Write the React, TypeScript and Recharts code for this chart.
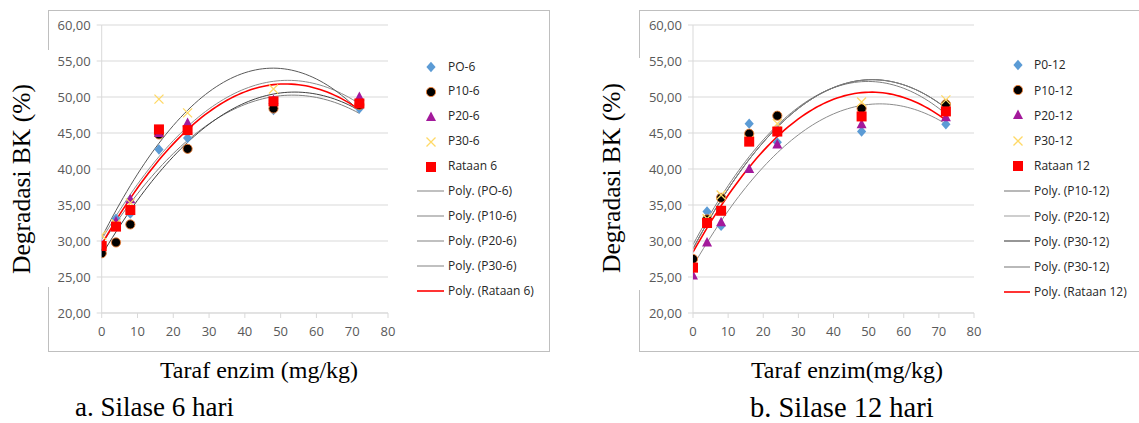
import React from 'react';
import { ComposedChart, Scatter, Line, XAxis, YAxis, CartesianGrid, Legend } from 'recharts';

// ---------- data ----------
const enzymeLevels = [0, 4, 8, 16, 24, 48, 72];

const p0_6 = [28.6, 33.1, 33.8, 42.7, 44.3, 48.2, 48.4];
const p10_6 = [28.3, 29.8, 32.3, 44.8, 42.8, 48.4, 48.9];
const p20_6 = [29.5, 32.7, 35.8, 45.0, 46.4, 49.6, 50.0];
const p30_6 = [30.8, 32.4, 35.3, 49.7, 47.8, 51.1, 49.1];
const rataan6 = [29.3, 32.0, 34.3, 45.5, 45.4, 49.4, 49.1];

const p0_12 = [26.2, 34.1, 32.1, 46.3, 43.7, 45.2, 46.2];
const p10_12 = [27.5, 33.0, 36.0, 44.9, 47.4, 48.4, 49.0];
const p20_12 = [25.2, 29.8, 32.6, 40.0, 43.4, 46.2, 47.2];
const p30_12 = [26.3, 33.1, 36.4, 44.0, 46.3, 49.3, 49.6];
const rataan12 = [26.3, 32.5, 34.2, 43.8, 45.2, 47.3, 48.0];

const yTicks = [20, 25, 30, 35, 40, 45, 50, 55, 60];
const xTicks = [0, 10, 20, 30, 40, 50, 60, 70, 80];

const names6 = ['PO-6', 'P10-6', 'P20-6', 'P30-6', 'Rataan 6'];
const trendNames6 = ['Poly. (PO-6)', 'Poly. (P10-6)', 'Poly. (P20-6)', 'Poly. (P30-6)', 'Poly. (Rataan 6)'];
const names12 = ['P0-12', 'P10-12', 'P20-12', 'P30-12', 'Rataan 12'];
const trendNames12 = ['Poly. (P10-12)', 'Poly. (P20-12)', 'Poly. (P30-12)', 'Poly. (P30-12)', 'Poly. (Rataan 12)'];

// ---------- helpers ----------
const toPoints = (ys: number[]) => enzymeLevels.map((x, i) => ({ x, y: ys[i] }));

// second-order least-squares trendline (as Excel "Poly." trendline)
function polyFit2(xs: number[], ys: number[]) {
  let n = xs.length, s1 = 0, s2 = 0, s3 = 0, s4 = 0, t0 = 0, t1 = 0, t2 = 0;
  for (let i = 0; i < n; i++) {
    const x = xs[i], y = ys[i];
    s1 += x; s2 += x * x; s3 += x * x * x; s4 += x * x * x * x;
    t0 += y; t1 += x * y; t2 += x * x * y;
  }
  const det = (m: number[][]) =>
    m[0][0] * (m[1][1] * m[2][2] - m[1][2] * m[2][1]) -
    m[0][1] * (m[1][0] * m[2][2] - m[1][2] * m[2][0]) +
    m[0][2] * (m[1][0] * m[2][1] - m[1][1] * m[2][0]);
  const M = [[n, s1, s2], [s1, s2, s3], [s2, s3, s4]];
  const D = det(M);
  const a = det([[t0, s1, s2], [t1, s2, s3], [t2, s3, s4]]) / D;
  const b = det([[n, t0, s2], [s1, t1, s3], [s2, t2, s4]]) / D;
  const c = det([[n, s1, t0], [s1, s2, t1], [s2, s3, t2]]) / D;
  return { a, b, c };
}
const trendX: number[] = [];
for (let x = 0; x <= 72; x += 1) trendX.push(x);
const trend = (ys: number[]) => {
  const { a, b, c } = polyFit2(enzymeLevels, ys);
  return trendX.map((x) => ({ x, y: a + b * x + c * x * x }));
};

const fmt = (v: number) => v.toFixed(2).replace('.', ',');

// ---------- marker shapes ----------
const DiamondShape = (p: any) => (
  <path d={`M${p.cx},${p.cy - 5.2}L${p.cx + 4.6},${p.cy}L${p.cx},${p.cy + 5.2}L${p.cx - 4.6},${p.cy}Z`} fill="#5B9BD5" />
);
const CircleShape = (p: any) => (
  <circle cx={p.cx} cy={p.cy} r={4.6} fill="#000000" stroke="#ED7D31" strokeWidth={0.9} />
);
const TriangleShape = (p: any) => (
  <path d={`M${p.cx},${p.cy - 5.5}L${p.cx + 5},${p.cy + 4}L${p.cx - 5},${p.cy + 4}Z`} fill="#A3199B" />
);
const XShape = (p: any) => (
  <path d={`M${p.cx - 4.5},${p.cy - 4.5}L${p.cx + 4.5},${p.cy + 4.5}M${p.cx + 4.5},${p.cy - 4.5}L${p.cx - 4.5},${p.cy + 4.5}`} stroke="#FFD966" strokeWidth={1.3} fill="none" />
);
const SquareShape = (p: any) => (
  <rect x={p.cx - 5} y={p.cy - 5} width={10} height={10} fill="#FF0000" />
);
const shapes = [DiamondShape, CircleShape, TriangleShape, XShape, SquareShape];

// ---------- legend ----------
type LegendCfg = {
  left: number; top: number; rowH: number; markerX: number; lineX1: number; lineX2: number; textX: number;
  names: string[]; trendNames: string[]; lineColors: string[];
};
const LegendBox = ({ cfg }: { cfg: LegendCfg }) => {
  const rows: React.ReactNode[] = [];
  cfg.names.forEach((n, i) => {
    const Shape = shapes[i];
    rows.push(
      <div key={'m' + i} style={{ position: 'absolute', top: i * cfg.rowH, left: 0, height: cfg.rowH, width: 150 }}>
        <svg width={14} height={14} style={{ position: 'absolute', left: cfg.markerX - cfg.left - 7, top: cfg.rowH / 2 - 7 }}>
          <Shape cx={7} cy={7} />
        </svg>
        <span style={{ position: 'absolute', left: cfg.textX - cfg.left, top: 0, lineHeight: cfg.rowH + 'px', whiteSpace: 'nowrap' }}>{n}</span>
      </div>
    );
  });
  cfg.trendNames.forEach((n, j) => {
    const i = j + cfg.names.length;
    const red = j === cfg.trendNames.length - 1;
    rows.push(
      <div key={'t' + j} style={{ position: 'absolute', top: i * cfg.rowH, left: 0, height: cfg.rowH, width: 150 }}>
        <svg width={cfg.lineX2 - cfg.lineX1} height={4} style={{ position: 'absolute', left: cfg.lineX1 - cfg.left, top: cfg.rowH / 2 - 2 }}>
          <line x1={0} y1={2} x2={cfg.lineX2 - cfg.lineX1} y2={2} stroke={cfg.lineColors[j]} strokeWidth={red ? 1.6 : 1.1} />
        </svg>
        <span style={{ position: 'absolute', left: cfg.textX - cfg.left, top: 0, lineHeight: cfg.rowH + 'px', whiteSpace: 'nowrap' }}>{n}</span>
      </div>
    );
  });
  return (
    <div style={{ position: 'relative', width: 150, height: cfg.rowH * 10, fontFamily: '"Open Sans", sans-serif', fontSize: 12, color: '#262626' }}>
      {rows}
    </div>
  );
};

// ---------- one panel ----------
type PanelProps = {
  left: number; width: number; plotLeft: number; plotWidth: number;
  series: number[][]; trendSeries: number[][]; names: string[]; trendNames: string[];
  trendColors: string[]; legendCfg: LegendCfg;
};
const Panel = ({ left, width, plotLeft, plotWidth, series, trendSeries, names, trendNames, trendColors, legendCfg }: PanelProps) => {
  const yAxisW = 45;
  const top = 10, height = 342, plotTop = 15, plotH = 288, xAxisH = 25;
  const margin = {
    top: plotTop,
    left: plotLeft - yAxisW,
    right: width - plotLeft - plotWidth,
    bottom: height - plotTop - plotH - xAxisH,
  };
  const tickStyle = { fontFamily: '"Open Sans", sans-serif', fontSize: 13, fill: '#595959' };
  return (
    <div style={{ position: 'absolute', left, top, width, height }}>
      <ComposedChart width={width} height={height} margin={margin}>
        <CartesianGrid horizontal vertical={false} stroke="#D9D9D9" />
        <XAxis
          dataKey="x" type="number" domain={[0, 80]} ticks={xTicks} height={xAxisH}
          stroke="#D9D9D9" tick={tickStyle} tickSize={5} tickMargin={9} allowDataOverflow
        />
        <YAxis
          type="number" domain={[20, 60]} ticks={yTicks} width={yAxisW} tickFormatter={fmt}
          stroke="#D9D9D9" tick={tickStyle} tickSize={5} tickMargin={6} allowDataOverflow
        />
        {series.map((s, i) => (
          <Scatter key={'s' + i} name={names[i]} data={toPoints(s)} dataKey="y" shape={shapes[i]} isAnimationActive={false} />
        ))}
        {trendSeries.map((s, i) => (
          <Line
            key={'l' + i} name={trendNames[i] + ' ' + i} data={trend(s)} dataKey="y" type="linear" dot={false}
            activeDot={false} stroke={trendColors[i]} strokeWidth={i === 4 ? 1.6 : 1} isAnimationActive={false}
          />
        ))}
        <Legend
          layout="vertical" align="center" verticalAlign="middle"
          wrapperStyle={{ left: legendCfg.left, top: legendCfg.top, width: 150 }}
          content={() => <LegendBox cfg={legendCfg} />}
        />
      </ComposedChart>
    </div>
  );
};

const serif = '"Liberation Serif", "Times New Roman", serif';

export default function App() {
  const legend6: LegendCfg = {
    left: 360, top: 44.5, rowH: 24.9, markerX: 383, lineX1: 369, lineX2: 396, textX: 400,
    names: names6, trendNames: trendNames6,
    lineColors: ['#8C8C8C', '#8C8C8C', '#8C8C8C', '#8C8C8C', '#FF0000'],
  };
  const legend12: LegendCfg = {
    left: 355, top: 42.4, rowH: 25.2, markerX: 379, lineX1: 365, lineX2: 391, textX: 395,
    names: names12, trendNames: trendNames12,
    lineColors: ['#7F7F7F', '#A6A6A6', '#404040', '#808080', '#FF0000'],
  };
  return (
    <div style={{ position: 'absolute', left: 0, top: 0, width: 1139, height: 423, background: '#fff', overflow: 'hidden' }}>
      {/* frames */}
      <div style={{ position: 'absolute', left: 48, top: 10, width: 502, height: 342, border: '1px solid #BFBFBF', boxSizing: 'border-box' }} />
      <div style={{ position: 'absolute', left: 639, top: 10, width: 520, height: 342, border: '1px solid #BFBFBF', boxSizing: 'border-box' }} />

      <Panel
        left={48} width={503} plotLeft={53.7} plotWidth={286.3}
        series={[p0_6, p10_6, p20_6, p30_6, rataan6]}
        trendSeries={[p0_6, p10_6, p20_6, p30_6, rataan6]}
        names={names6} trendNames={trendNames6}
        trendColors={['#7F7F7F', '#404040', '#8C8C8C', '#595959', '#FF0000']} legendCfg={legend6}
      />
      <Panel
        left={639} width={500} plotLeft={54} plotWidth={281}
        series={[p0_12, p10_12, p20_12, p30_12, rataan12]}
        trendSeries={[p10_12, p20_12, p30_12, p30_12, rataan12]}
        names={names12} trendNames={trendNames12}
        trendColors={['#7F7F7F', '#8C8C8C', '#404040', '#808080', '#FF0000']} legendCfg={legend12}
      />

      {/* y axis titles (with white box interrupting frame) */}
      <div style={{ position: 'absolute', left: 0, top: 50, width: 52, height: 237, background: '#fff' }} />
      <div style={{ position: 'absolute', left: 590, top: 58, width: 52, height: 232, background: '#fff' }} />
      <div style={{ position: 'absolute', left: 21.5 - 150, top: 178.5 - 15, width: 300, height: 30, lineHeight: '30px', textAlign: 'center', transform: 'rotate(-90deg)', fontFamily: serif, fontSize: 25.5, color: '#000', whiteSpace: 'nowrap' }}>Degradasi BK (%)</div>
      <div style={{ position: 'absolute', left: 612 - 150, top: 177.5 - 15, width: 300, height: 30, lineHeight: '30px', textAlign: 'center', transform: 'rotate(-90deg)', fontFamily: serif, fontSize: 25.5, color: '#000', whiteSpace: 'nowrap' }}>Degradasi BK (%)</div>

      {/* x axis titles */}
      <div style={{ position: 'absolute', left: 259 - 150, top: 357, width: 300, height: 26, lineHeight: '26px', textAlign: 'center', fontFamily: serif, fontSize: 24, color: '#000', whiteSpace: 'nowrap' }}>Taraf enzim (mg/kg)</div>
      <div style={{ position: 'absolute', left: 847 - 150, top: 357, width: 300, height: 26, lineHeight: '26px', textAlign: 'center', fontFamily: serif, fontSize: 24, color: '#000', whiteSpace: 'nowrap' }}>Taraf enzim(mg/kg)</div>

      {/* captions */}
      <div style={{ position: 'absolute', left: 75, top: 392, height: 31, lineHeight: '31px', fontFamily: serif, fontSize: 27, color: '#000', whiteSpace: 'nowrap' }}>a. Silase 6 hari</div>
      <div style={{ position: 'absolute', left: 750, top: 392, height: 31, lineHeight: '31px', fontFamily: serif, fontSize: 28.5, color: '#000', whiteSpace: 'nowrap' }}>b. Silase 12 hari</div>
    </div>
  );
}
